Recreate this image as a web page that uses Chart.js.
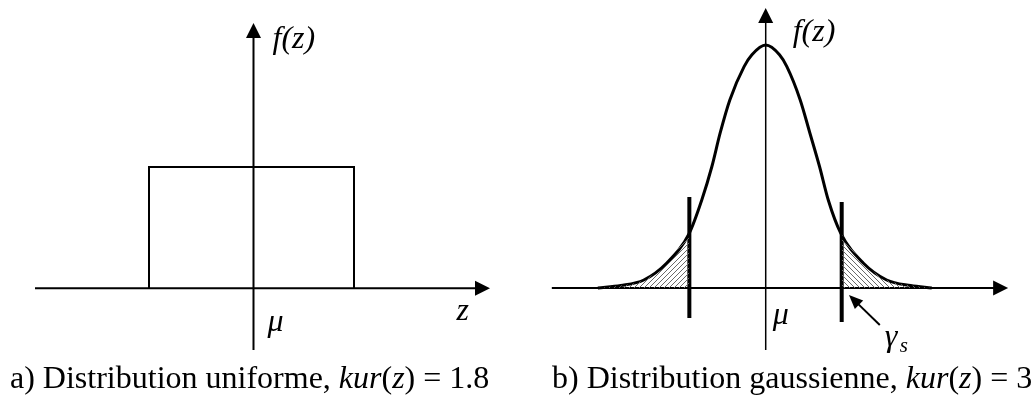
<!DOCTYPE html>
<html>
<head>
<meta charset="utf-8">
<script src="https://cdn.jsdelivr.net/npm/chart.js@4/dist/chart.umd.min.js"></script>
<style>
  html, body { margin: 0; padding: 0; background: #fff; }
  #wrap { position: relative; width: 1033px; height: 400px; }
  canvas { position: absolute; top: 0; }
  #uniform { left: 0; }
  #gauss { left: 517px; }
</style>
</head>
<body>
<div id="wrap">
  <canvas id="uniform" width="517" height="400"></canvas>
  <canvas id="gauss" width="516" height="400"></canvas>
</div>
<script>
// a) uniform density: box of height 1 around mu
const uniformZ = [-1.045, -1.045, 1.005, 1.005];
const uniformF = [0, 1, 1, 0];

// b) gaussian density, z in sigma-ish units, f relative to the peak
const gaussZ = [-3.65, -3.15, -2.65, -2.15, -1.66, -1.39, -1.17, -0.99, -0.78, -0.47, -0.3, 0,
                0.3, 0.46, 0.75, 0.96, 1.17, 1.36, 1.63, 2.12, 2.63, 3.15, 3.61];
const gaussF = [0, 0.01, 0.033, 0.103, 0.226, 0.362, 0.5, 0.638, 0.774, 0.911, 0.96, 1,
                0.96, 0.911, 0.774, 0.638, 0.5, 0.362, 0.226, 0.103, 0.033, 0.01, 0];

// hatched tails outside the thresholds
const tailLeftZ = [-3.65, -3.15, -2.65, -2.15, -1.66];
const tailLeftF = [0, 0.01, 0.033, 0.103, 0.226];
const tailRightZ = [1.652, 2.12, 2.63, 3.15, 3.61];
const tailRightF = [0.22, 0.103, 0.033, 0.01, 0];

// threshold bars (gamma_s)
const thresholdZ = [-1.66, 1.652];
const thresholdTop = [0.374, 0.354];
const thresholdBottom = [-0.123, -0.14];

const SERIF = '"Liberation Serif", "Times New Roman", serif';
const roman = '32px ' + SERIF;
const italic = 'italic 32px ' + SERIF;

function pts(xs, ys) {
  return xs.map((x, i) => ({ x: x, y: ys[i] }));
}

function hatch(dir) {
  const c = document.createElement('canvas');
  c.width = c.height = 5;
  const g = c.getContext('2d');
  g.strokeStyle = '#6a6a6a';
  g.lineWidth = 1;
  g.beginPath();
  if (dir > 0) { g.moveTo(-1, 6); g.lineTo(6, -1); }
  else { g.moveTo(-1, -1); g.lineTo(6, 6); }
  g.stroke();
  return g.createPattern(c, 'repeat');
}

function arrow(ctx, x0, y0, x1, y1, len, half) {
  const a = Math.atan2(y1 - y0, x1 - x0);
  const c = Math.cos(a), s = Math.sin(a);
  ctx.beginPath();
  ctx.moveTo(x0, y0);
  ctx.lineTo(x1 - c * len * 0.8, y1 - s * len * 0.8);
  ctx.stroke();
  ctx.beginPath();
  ctx.moveTo(x1, y1);
  ctx.lineTo(x1 - len * c + half * s, y1 - len * s - half * c);
  ctx.lineTo(x1 - len * c - half * s, y1 - len * s + half * c);
  ctx.closePath();
  ctx.fill();
}

function runs(ctx, x, y, parts) {
  ctx.textBaseline = 'alphabetic';
  ctx.textAlign = 'left';
  for (const [txt, font] of parts) {
    ctx.font = font;
    ctx.fillText(txt, x, y);
    x += ctx.measureText(txt).width;
  }
}

// axes with arrow heads + labels, drawn from the scales
function axesPlugin(ax, draw) {
  return {
    id: 'axes',
    beforeDatasetsDraw(chart) {
      const { ctx, scales: { x, y } } = chart;
      ctx.save();
      ctx.strokeStyle = '#000';
      ctx.fillStyle = '#000';
      ctx.lineWidth = 2;
      arrow(ctx, x.getPixelForValue(ax.x0), y.getPixelForValue(0),
                 x.getPixelForValue(ax.x1), y.getPixelForValue(0), 15, 7.5);
      ctx.lineWidth = ax.vw;
      arrow(ctx, x.getPixelForValue(0), y.getPixelForValue(ax.y0),
                 x.getPixelForValue(0), y.getPixelForValue(ax.y1), 15, 7.5);
      ctx.restore();
    },
    afterDatasetsDraw(chart) {
      const { ctx, scales: { x, y } } = chart;
      ctx.save();
      ctx.fillStyle = '#000';
      ctx.strokeStyle = '#000';
      draw(ctx, x.getPixelForValue(0), y.getPixelForValue(0), x, y);
      ctx.restore();
    }
  };
}

function baseOptions(xmin, xmax, ymin, ymax) {
  return {
    responsive: false,
    animation: false,
    layout: { padding: 0 },
    plugins: { legend: { display: false }, tooltip: { enabled: false }, title: { display: false } },
    elements: { point: { radius: 0 } },
    scales: {
      x: { type: 'linear', min: xmin, max: xmax, display: false },
      y: { type: 'linear', min: ymin, max: ymax, display: false }
    }
  };
}

// panel a: 100 px per z unit, 121.3 px per f unit
new Chart(document.getElementById('uniform'), {
  type: 'line',
  data: {
    datasets: [{
      data: pts(uniformZ, uniformF),
      borderColor: '#000',
      borderWidth: 2,
      tension: 0,
      fill: false
    }]
  },
  options: baseOptions(-2.535, 2.635, -0.9209, 2.3768),
  plugins: [axesPlugin({ x0: -2.185, x1: 2.365, y0: -0.508, y1: 2.187, vw: 2 }, (ctx, ox, oy) => {
    runs(ctx, ox + 19, 48, [['f(z)', italic]]);
    runs(ctx, ox + 14, oy + 43, [['\u03bc', italic]]);
    runs(ctx, ox + 203, oy + 32, [['z', italic]]);
    runs(ctx, 10, 388, [['a) Distribution uniforme, ', roman], ['kur', italic], ['(', roman],
                        ['z', italic], [') = 1.8', roman]]);
  })]
});

// panel b: 46 px per z unit, 243 px per f unit
const arrowFrom = { x: 2.48, y: -0.152 };
const arrowTo = { x: 1.81, y: -0.029 };

new Chart(document.getElementById('gauss'), {
  type: 'line',
  data: {
    datasets: [
      {
        data: pts(tailLeftZ, tailLeftF),
        borderWidth: 0,
        borderColor: 'rgba(0,0,0,0)',
        backgroundColor: hatch(1),
        cubicInterpolationMode: 'monotone',
        fill: 'origin'
      },
      {
        data: pts(tailRightZ, tailRightF),
        borderWidth: 0,
        borderColor: 'rgba(0,0,0,0)',
        backgroundColor: hatch(-1),
        cubicInterpolationMode: 'monotone',
        fill: 'origin'
      },
      {
        data: pts(gaussZ, gaussF),
        borderColor: '#000',
        borderWidth: 3,
        cubicInterpolationMode: 'monotone',
        fill: false
      },
      {
        data: pts([thresholdZ[0], thresholdZ[0]], [thresholdTop[0], thresholdBottom[0]]),
        borderColor: '#000',
        borderWidth: 4,
        fill: false
      },
      {
        data: pts([thresholdZ[1], thresholdZ[1]], [thresholdTop[1], thresholdBottom[1]]),
        borderColor: '#000',
        borderWidth: 4,
        fill: false
      }
    ]
  },
  options: baseOptions(-5.407, 5.811, -0.4609, 1.1852),
  plugins: [axesPlugin({ x0: -4.65, x1: 5.27, y0: -0.255, y1: 1.152, vw: 1.5 }, (ctx, ox, oy, x, y) => {
    ctx.lineWidth = 2;
    arrow(ctx, x.getPixelForValue(arrowFrom.x), y.getPixelForValue(arrowFrom.y),
               x.getPixelForValue(arrowTo.x), y.getPixelForValue(arrowTo.y), 14, 6);
    runs(ctx, ox + 27, 41, [['f(z)', italic]]);
    runs(ctx, ox + 7, oy + 36, [['\u03bc', italic]]);
    runs(ctx, ox + 119, oy + 58, [['\u03b3', italic]]);
    runs(ctx, ox + 134, oy + 64, [['s', 'italic 21px ' + SERIF]]);
    runs(ctx, 35, 388, [['b) Distribution gaussienne, ', roman], ['kur', italic], ['(', roman],
                        ['z', italic], [') = 3', roman]]);
  })]
});
</script>
</body>
</html>
